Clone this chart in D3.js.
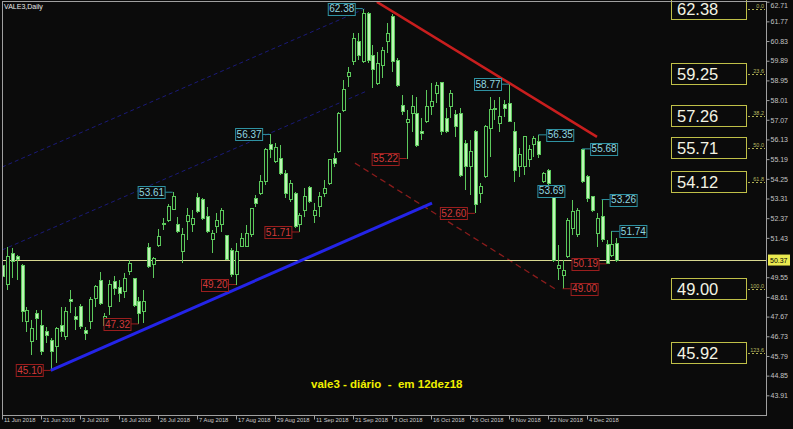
<!DOCTYPE html>
<html><head><meta charset="utf-8">
<script src="https://cdn.jsdelivr.net/npm/d3@7"></script>
<style>html,body{margin:0;padding:0;background:#0b0b0b;}svg{display:block;}</style>
</head><body>
<svg id="chart" width="793" height="429"></svg>
<script>
// ---------- DATA (VALE3 daily, 11 Jun 2018 .. 12 Dec 2018) ----------
const openP  = [50.13,49.18,50.69,50.56,50.13,47.42,46.47,47.82,47.26,46.95,46.55,46.23,47.26,46.71,48.51,47.69,48.14,46.99,47.42,48.54,49.41,47.26,48.14,49.33,49.05,48.86,49.81,49.49,48.38,47.90,50.95,50.16,51.08,52.13,52.28,52.79,52.05,50.77,52.21,52.05,53.37,53.27,52.44,51.33,51.97,52.05,51.54,50.85,49.66,51.01,51.01,51.57,53.32,53.56,54.12,55.87,55.07,55.23,54.51,53.24,53.56,52.05,52.76,53.85,52.52,52.92,53.55,54.03,55.22,55.54,57.53,59.13,59.84,60.80,59.84,62.15,60.16,58.81,59.68,60.80,61.99,59.92,57.77,56.93,57.38,57.38,56.50,56.98,57.69,58.33,58.84,57.14,57.69,57.30,57.38,55.94,54.83,56.50,53.56,54.35,56.66,57.62,56.90,57.78,57.86,56.50,54.83,54.83,55.15,55.87,56.02,54.11,54.67,53.69,49.97,49.65,50.53,51.88,51.57,55.63,54.35,53.40,51.65,52.44,51.09,50.61,51.14];
const highP  = [51.01,51.01,50.93,50.61,50.20,48.14,47.50,47.98,47.98,47.18,46.63,47.18,48.14,48.14,48.94,48.14,48.27,47.18,48.62,49.18,49.81,47.82,49.41,49.61,49.41,49.73,50.37,49.49,48.62,48.94,51.17,50.53,51.83,52.36,53.03,53.61,52.44,51.89,52.87,52.76,53.56,53.32,52.92,51.81,52.60,52.84,51.57,50.93,51.17,51.65,52.05,52.84,53.48,54.43,55.71,56.37,55.95,55.87,54.67,54.20,53.64,52.60,53.80,53.91,53.08,53.63,54.19,55.22,55.46,57.46,58.97,59.60,61.20,61.20,62.38,62.23,60.64,60.32,60.56,61.68,62.12,60.00,58.25,57.53,58.25,58.17,57.14,58.49,58.81,58.89,58.89,57.61,58.49,57.53,57.61,56.10,56.10,56.58,54.04,56.82,58.18,58.02,58.18,58.02,58.77,56.98,55.71,56.27,55.87,56.30,56.35,54.59,54.70,53.69,51.09,50.37,52.36,53.24,52.84,55.68,54.43,53.40,52.60,53.26,51.33,51.74,51.41];
const lowP   = [49.26,48.94,49.49,49.41,47.42,46.95,45.83,46.55,45.83,46.39,45.10,45.43,46.71,46.55,47.82,47.03,47.10,46.55,47.10,48.14,48.22,47.18,47.74,48.70,48.38,48.54,49.65,48.14,47.32,47.34,49.97,49.49,51.01,51.81,52.21,52.76,51.65,50.21,51.33,51.73,52.60,52.28,51.65,50.69,51.65,51.73,50.37,49.58,49.20,50.98,50.98,51.49,52.92,53.48,53.96,55.23,54.99,54.43,53.32,53.16,51.89,51.71,52.44,53.08,52.13,52.44,53.39,53.95,54.83,55.46,57.46,58.65,59.68,59.92,59.76,59.76,58.57,58.73,59.05,60.24,59.37,58.65,57.30,55.22,56.50,55.78,56.10,56.90,57.30,57.85,56.34,56.42,57.14,56.26,54.35,53.71,53.47,52.60,53.08,54.27,55.31,57.06,56.50,57.22,56.98,54.11,54.35,54.43,54.83,55.31,55.23,54.03,53.87,50.29,49.42,49.00,50.45,51.57,51.49,54.03,53.16,52.68,51.01,51.25,50.19,50.53,50.29];
const closeP = [49.57,50.53,50.29,50.40,47.90,47.98,47.10,47.58,45.99,46.79,45.99,47.10,46.95,47.90,48.38,47.53,47.18,46.84,48.49,49.13,48.30,47.66,49.21,49.02,48.78,49.49,50.21,48.22,47.82,48.38,50.05,50.45,51.48,52.05,52.92,53.40,51.73,51.57,52.52,52.36,52.68,52.36,51.73,51.65,52.24,52.76,50.41,49.66,50.77,51.41,51.65,52.84,53.08,54.12,55.66,55.63,55.76,54.51,53.56,54.04,51.97,52.52,53.40,53.16,52.76,53.39,53.79,55.15,54.99,57.38,58.52,59.32,60.96,60.16,62.15,59.92,59.45,59.76,60.40,61.20,59.84,58.73,57.46,57.06,57.69,55.86,56.42,57.69,57.93,58.73,56.50,56.50,58.33,56.74,54.43,54.83,55.54,53.00,53.88,56.74,57.54,57.54,57.22,57.62,56.98,54.67,55.39,56.27,55.63,56.18,55.39,54.51,54.03,50.37,50.13,49.89,52.28,52.68,52.76,54.11,53.32,52.76,52.36,51.33,50.21,51.09,50.37];

const dateTickIndex  = [0,8,16,24,32,40,48,56,64,72,80,88,96,104,112,120];
const dateTickLabels = ['11 Jun 2018','21 Jun 2018','3 Jul 2018','16 Jul 2018','26 Jul 2018','7 Aug 2018','17 Aug 2018','29 Aug 2018','11 Sep 2018','21 Sep 2018','3 Oct 2018','16 Oct 2018','26 Oct 2018','8 Nov 2018','22 Nov 2018','4 Dec 2018'];
const priceTicks = [62.71,61.77,60.83,59.89,58.95,58.01,57.07,56.13,55.19,54.25,53.31,52.37,51.43,49.55,48.61,47.67,46.73,45.79,44.85,43.91];
const lastPrice = 50.37;

const fibLevels = ['0.0','23.6','38.2','50.0','61.8','100.0','123.6'];
const fibPrices = [62.38,59.25,57.26,55.71,54.12,49.00,45.92];

const highLabels = [ {i:74,p:62.38,side:-1},{i:35,p:53.61,side:-1},{i:55,p:56.37,side:-1},{i:104,p:58.77,side:-1},
                     {i:110,p:56.35,side:1},{i:119,p:55.68,side:1},{i:113,p:53.69,side:0},{i:123,p:53.26,side:1},{i:125,p:51.74,side:1} ];
const lowLabels  = [ {i:10,p:45.10,side:-1},{i:28,p:47.32,side:-1},{i:48,p:49.20,side:-1},{i:61,p:51.71,side:-1},
                     {i:83,p:55.22,side:-1},{i:97,p:52.60,side:-1},{i:124,p:50.19,side:-1},{i:115,p:49.00,side:1} ];

// trend lines: [index1, price1, index2, price2]
const resistanceLine = [76.9,62.70,122.05,56.25];
const supportLine    = [10,45.10,88.2,53.09];
const redDashedLine  = [72.4,55.00,113.8,48.94];
const channelUpper   = [0,54.81,74.5,62.38];
const channelMiddle  = [0,50.85,74.5,58.41];

const titleText = 'VALE3,Daily';
const noteText = 'vale3 - diário  -  em 12dez18';

// ---------- DRAWING ----------
const svg = d3.select('#chart');
const R = {left:2, right:766, top:1, bottom:415};
const x = d3.scaleLinear().domain([0,126]).range([2,616.25]);
const y = d3.scaleLinear().domain([42.97,62.79]).range([415,0]);
const FONT = 'Liberation Sans, Arial, sans-serif';

svg.append('rect').attr('width',793).attr('height',429).attr('fill','#0b0b0b');
svg.append('defs').append('clipPath').attr('id','clip')
  .append('rect').attr('x',R.left).attr('y',R.top).attr('width',R.right-R.left).attr('height',R.bottom-R.top);
const g = svg.append('g').attr('clip-path','url(#clip)');

function seg(arr, color, width, dash){
  g.append('line').attr('x1',x(arr[0])).attr('y1',y(arr[1])).attr('x2',x(arr[2])).attr('y2',y(arr[3]))
   .attr('stroke',color).attr('stroke-width',width).attr('stroke-dasharray',dash||null);
}
seg(channelUpper,'#1a1a78',1,'4,3');
seg(channelMiddle,'#1a1a78',1,'4,3');
seg(redDashedLine,'#8a1c1c',1.3,'6,4');

// current price line
g.append('line').attr('x1',R.left).attr('x2',R.right).attr('y1',y(lastPrice)).attr('y2',y(lastPrice))
  .attr('stroke','#d8d890').attr('stroke-width',1).attr('shape-rendering','crispEdges');

// candles
const idx = d3.range(openP.length);
const cg = g.append('g').attr('shape-rendering','crispEdges');
cg.selectAll('line.w').data(idx).join('line').attr('class','w')
  .attr('x1',i=>Math.round(x(i))+0.5).attr('x2',i=>Math.round(x(i))+0.5)
  .attr('y1',i=>y(highP[i])).attr('y2',i=>y(lowP[i]))
  .attr('stroke','#5cc85c').attr('stroke-width',1);
cg.selectAll('rect.b').data(idx).join('rect').attr('class','b')
  .attr('x',i=>Math.round(x(i))-1)
  .attr('width',3)
  .attr('y',i=>y(Math.max(openP[i],closeP[i])))
  .attr('height',i=>Math.max(1,Math.abs(y(openP[i])-y(closeP[i]))))
  .attr('fill',i=>closeP[i]<openP[i]?'#bdf5b5':'#0b0b0b')
  .attr('stroke','#5cc85c').attr('stroke-width',1);

seg(supportLine,'#2424e8',3);
seg(resistanceLine,'#c81e1e',2.5);

// swing labels
function drawLabels(list, text, border){
  const lg = g.append('g');
  const bw = 27, bh = 12, gap = 8;
  list.forEach(d=>{
    const cx = x(d.i), cy = y(d.p);
    let bx;
    if(d.side<0) bx = cx-gap-bw; else if(d.side>0) bx = cx+gap; else bx = cx-bw/2-2;
    if(d.side!==0){
      lg.append('line').attr('x1',d.side<0?bx+bw:bx).attr('x2',cx).attr('y1',cy).attr('y2',cy)
        .attr('stroke',border).attr('stroke-width',1);
    }
    lg.append('rect').attr('x',bx+0.5).attr('y',Math.round(cy-bh/2)+0.5).attr('width',bw).attr('height',bh)
      .attr('fill','#0b0b0b').attr('stroke',border).attr('stroke-width',1);
    lg.append('text').attr('x',bx+bw/2+0.5).attr('y',cy+3.6).attr('text-anchor','middle')
      .attr('font-family',FONT).attr('font-size',10).attr('fill',text)
      .text(d.p.toFixed(2));
  });
}
drawLabels(highLabels,'#8fd8e0','#2f92a2');
drawLabels(lowLabels,'#d23a3a','#9a1e1e');

// fibonacci levels on the right
const fg = svg.append('g');
fibPrices.forEach((p,k)=>{
  const yy = Math.round(y(p))+0.5;
  fg.append('line').attr('x1',700).attr('x2',765).attr('y1',yy).attr('y2',yy)
    .attr('stroke','#b0b050').attr('stroke-width',1).attr('stroke-dasharray','2,2');
  fg.append('text').attr('x',764).attr('y',Math.max(6,yy-1.5)).attr('text-anchor','end')
    .attr('font-family',FONT).attr('font-size',5.5).attr('fill','#b8b860')
    .text(fibLevels[k]);
  fg.append('rect').attr('x',671.5).attr('y',Math.round(y(p))-10.5).attr('width',75).attr('height',21)
    .attr('fill','#0b0b0b').attr('stroke','#c0c048').attr('stroke-width',1);
  fg.append('text').attr('x',677).attr('y',y(p)+6)
    .attr('font-family',FONT).attr('font-size',16.5).attr('fill','#f4f4e4')
    .text(p.toFixed(2));
});

// frame
svg.append('rect').attr('x',R.left+0.5).attr('y',R.top+0.5).attr('width',R.right-R.left).attr('height',R.bottom-R.top)
  .attr('fill','none').attr('stroke','#a0a0a0').attr('stroke-width',1).attr('shape-rendering','crispEdges');

// price axis
const ya = svg.append('g').attr('transform',`translate(${R.right+0.5},0)`)
  .call(d3.axisRight(y).tickValues(priceTicks).tickSize(3).tickFormat(d3.format('.2f')));
ya.select('.domain').remove();
ya.selectAll('line').attr('stroke','#a0a0a0');
ya.selectAll('text').attr('fill','#c4c4c4').attr('font-family',FONT)
  .attr('font-size',7).attr('x',4).attr('dy',d=>y(d)<4?'0.85em':'0.32em');

// current price tag
svg.append('rect').attr('x',768).attr('y',y(lastPrice)-5.5).attr('width',22).attr('height',11).attr('fill','#eaea50');
svg.append('text').attr('x',770).attr('y',y(lastPrice)+2.5).attr('font-family',FONT)
  .attr('font-size',7).attr('fill','#000').text(lastPrice.toFixed(2));

// date axis
const xa = svg.append('g').attr('transform',`translate(0,${R.bottom+0.5})`)
  .call(d3.axisBottom(x).tickValues(dateTickIndex).tickSize(4).tickFormat((d,k)=>dateTickLabels[k]));
xa.select('.domain').remove();
xa.selectAll('line').attr('stroke','#a0a0a0');
xa.selectAll('text').attr('fill','#cccccc').attr('font-family',FONT)
  .attr('font-size',5.8).attr('text-anchor','start').attr('x',1.5).attr('y',2).attr('dy','0.71em');

// title and note
svg.append('text').attr('x',4).attr('y',9).attr('font-family',FONT)
  .attr('font-size',7).attr('fill','#e8e8e8').text(titleText);
svg.append('text').attr('x',311).attr('y',388).attr('font-family',FONT)
  .attr('font-size',11.5).attr('font-weight','bold').attr('fill','#f0f000').style('white-space','pre').text(noteText);
</script>
</body></html>
